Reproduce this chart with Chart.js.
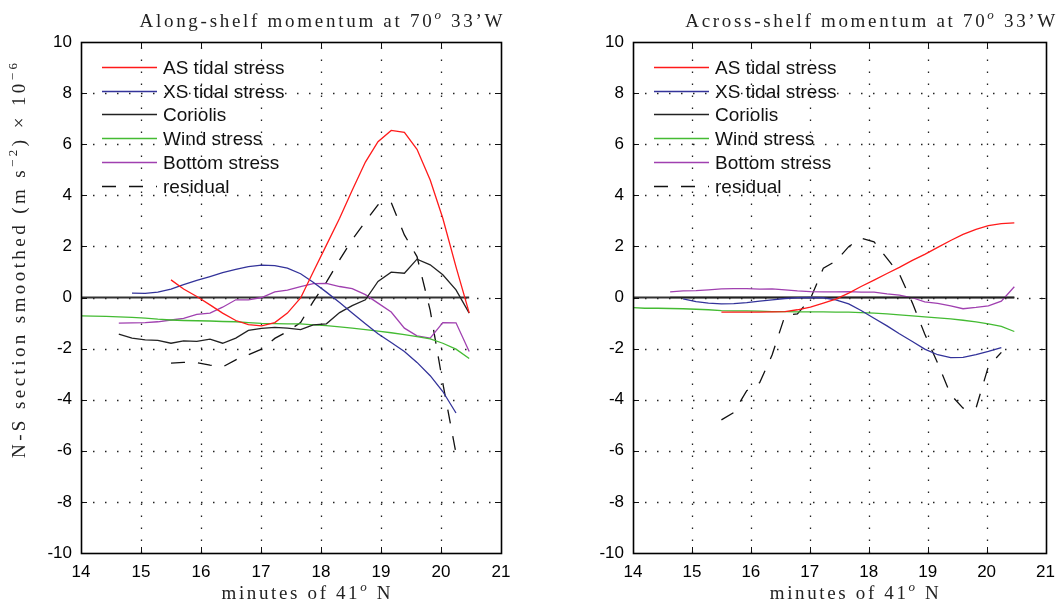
<!DOCTYPE html>
<html>
<head>
<meta charset="utf-8">
<script src="https://cdn.jsdelivr.net/npm/chart.js@4/dist/chart.umd.min.js"></script>
<style>
  html, body { margin: 0; padding: 0; background: #fff; }
  body { width: 1064px; height: 603px; position: relative; overflow: hidden; }
  .panel { position: absolute; top: 0; }
  #leftPanel { left: 0; width: 520px; height: 603px; }
  #rightPanel { left: 560px; width: 504px; height: 603px; }
</style>
</head>
<body>
<div class="panel" id="leftPanel"><canvas id="along" width="520" height="603"></canvas></div>
<div class="panel" id="rightPanel"><canvas id="across" width="504" height="603"></canvas></div>
<script>
// sample positions along the section (minutes of 41 N)
const X_MINUTES = [14.00, 14.20, 14.42, 14.63, 14.85, 15.07, 15.28, 15.50, 15.71, 15.93,
                   16.15, 16.36, 16.58, 16.79, 17.01, 17.23, 17.44, 17.66, 17.87, 18.09,
                   18.31, 18.52, 18.74, 18.95, 19.17, 19.39, 19.60, 19.82, 20.03, 20.25, 20.47];

const SERIES_LABELS = ['AS tidal stress', 'XS tidal stress', 'Coriolis', 'Wind stress', 'Bottom stress', 'residual'];

// along-shelf momentum terms (x 1e-6 m s^-2)
const asAlong = [null, null, null, null, null, null, null,
  0.69, 0.33, 0.04, -0.29, -0.61, -0.90, -1.06, -1.11, -0.98, -0.61, -0.02, 1.0,
  2.05, 3.1, 4.2, 5.3, 6.1, 6.54, 6.46, 5.8, 4.6, 3.1, 1.2, -0.6];
const xsAlong = [null, null, null, null,
  0.17, 0.16, 0.21, 0.33, 0.50, 0.67, 0.82, 0.97, 1.10, 1.21, 1.27, 1.25, 1.15,
  0.93, 0.60, 0.21, -0.20, -0.61, -1.03, -1.42, -1.76, -2.11, -2.54, -3.06, -3.68, -4.52, null];
const corAlong = [null, null, null,
  -1.43, -1.59, -1.66, -1.68, -1.79, -1.70, -1.72, -1.63, -1.79, -1.59, -1.29, -1.21,
  -1.17, -1.20, -1.26, -1.07, -1.03, -0.59, -0.32, -0.09, 0.63, 0.99, 0.95, 1.50,
  1.28, 0.89, 0.30, -0.61];
const windAlong = [-0.72, -0.73, -0.74,
  -0.76, -0.78, -0.81, -0.85, -0.88, -0.90, -0.91, -0.92, -0.94, -0.95, -0.98, -1.01,
  -1.02, -1.03, -1.03, -1.07, -1.10, -1.15, -1.20, -1.26, -1.32, -1.38, -1.45, -1.53,
  -1.62, -1.79, -2.02, -2.39];
const botAlong = [null, null, null,
  -1.00, -0.99, -0.98, -0.95, -0.88, -0.82, -0.66, -0.61, -0.38, -0.09, -0.09, 0.0,
  0.22, 0.29, 0.43, 0.54, 0.55, 0.43, 0.35, 0.11, -0.22, -0.57, -1.20, -1.50,
  -1.59, -0.98, -0.99, -2.11];
const resAlong = [null, null, null, null, null, null, null,
  -2.57, -2.54, -2.55, -2.65, -2.72, -2.44, -2.24, -2.02, -1.6, -1.33, -0.98, -0.16,
  0.6, 1.47, 2.26, 2.97, 3.63, 3.72, 2.45, 1.6, -0.5, -3.35, -6.1, null];

// across-shelf momentum terms
const asAcross = [null, null, null, null, null, null, null,
  -0.57, -0.57, -0.57, -0.57, -0.56, -0.55, -0.48, -0.38, -0.22, -0.06, 0.17, 0.43,
  0.68, 0.94, 1.18, 1.45, 1.69, 1.96, 2.23, 2.47, 2.67, 2.81, 2.89, 2.92];
const xsAcross = [null, null, null, null,
  -0.05, -0.16, -0.22, -0.25, -0.24, -0.20, -0.14, -0.09, -0.04, -0.01, 0.0, -0.01,
  -0.09, -0.25, -0.51, -0.81, -1.11, -1.42, -1.72, -2.02, -2.24, -2.35, -2.34, -2.24,
  -2.11, -1.96, null];
const corAcross = [null, null, null,
  0, 0, 0, 0, 0, 0, 0, 0, 0, 0, 0, 0, 0, 0, 0, 0, 0, 0, 0, 0, 0, 0, 0, 0, 0, 0, 0, 0];
const windAcross = [-0.40, -0.42, -0.42,
  -0.43, -0.44, -0.46, -0.48, -0.51, -0.52, -0.52, -0.53, -0.55, -0.55, -0.56, -0.56,
  -0.56, -0.57, -0.57, -0.59, -0.61, -0.64, -0.68, -0.72, -0.76, -0.80, -0.84, -0.89,
  -0.95, -1.03, -1.13, -1.33];
const botAcross = [null, null, null,
  0.22, 0.26, 0.27, 0.30, 0.34, 0.35, 0.35, 0.33, 0.34, 0.30, 0.26, 0.23, 0.22,
  0.22, 0.23, 0.21, 0.21, 0.14, 0.09, -0.01, -0.17, -0.23, -0.33, -0.44, -0.39,
  -0.33, -0.14, 0.42];
const resAcross = [null, null, null, null, null, null, null,
  -4.79, -4.5, -3.65, -3.33, -2.25, -0.7, -0.64, -0.05, 1.15, 1.42, 1.99, 2.32,
  2.18, 1.53, 0.92, -0.21, -1.43, -2.57, -3.8, -4.33, -4.33, -2.7, -2.15, null];

const zeroLine = X_MINUTES.map(() => 0);

const SERIES_COLORS = ['#ff1a1a', '#33339a', '#222222', '#44bb33', '#a040b0', '#111111'];
const SERIES_DASH = [[], [], [], [], [], [14, 13]];

const SANS = '"Liberation Sans", Arial, sans-serif';
const SERIF = '"Liberation Serif", "DejaVu Serif", serif';

function toPoints(values) {
  return X_MINUTES.map((x, k) => ({ x: x, y: values[k] })).filter(p => p.y !== null);
}

function buildDatasets(seriesList) {
  const sets = seriesList.map((values, i) => ({
    label: SERIES_LABELS[i],
    data: toPoints(values),
    borderColor: SERIES_COLORS[i],
    borderDash: SERIES_DASH[i],
    borderWidth: 1.3,
    pointRadius: 0,
    tension: 0,
    fill: false
  }));
  sets.push({
    label: '',
    data: toPoints(zeroLine),
    borderColor: '#333333',
    borderWidth: 2,
    pointRadius: 0,
    tension: 0,
    fill: false
  });
  return sets;
}

// rich text with letter spacing and superscripts
function segFont(seg, size) {
  const s = seg.sup ? Math.round(size * 0.68) : size;
  return (seg.italic ? 'italic ' : '') + s + 'px ' + SERIF;
}
function measureRich(ctx, segs, size) {
  let w = 0, n = 0;
  segs.forEach(seg => {
    ctx.font = segFont(seg, size);
    for (const ch of seg.t) { w += ctx.measureText(ch).width; n++; }
  });
  return { w, n };
}
function drawRich(ctx, segs, cx, y, size, target) {
  const m = measureRich(ctx, segs, size);
  const gap = (target - m.w) / (m.n - 1);
  let x = cx - target / 2;
  ctx.textAlign = 'left';
  ctx.textBaseline = 'alphabetic';
  segs.forEach(seg => {
    ctx.font = segFont(seg, size);
    const dy = seg.sup ? -size * 0.42 : 0;
    for (const ch of seg.t) {
      ctx.fillText(ch, x, y + dy);
      x += ctx.measureText(ch).width + gap;
    }
  });
}

const framePlugin = {
  id: 'frame',
  beforeDatasetsDraw(chart) {
    const { ctx, chartArea: a, scales: { x, y } } = chart;
    ctx.save();
    ctx.strokeStyle = '#222';
    ctx.lineWidth = 1.3;
    ctx.setLineDash([1.5, 10.5]);
    x.ticks.forEach(t => {
      if (t.value <= x.min || t.value >= x.max) return;
      const px = Math.round(x.getPixelForValue(t.value)) + 0.5;
      ctx.beginPath(); ctx.moveTo(px, a.bottom); ctx.lineTo(px, a.top); ctx.stroke();
    });
    y.ticks.forEach(t => {
      if (t.value <= y.min || t.value >= y.max) return;
      const py = Math.round(y.getPixelForValue(t.value)) + 0.5;
      ctx.beginPath(); ctx.moveTo(a.left, py); ctx.lineTo(a.right, py); ctx.stroke();
    });
    ctx.restore();
  },
  afterDatasetsDraw(chart, args, opts) {
    const { ctx, chartArea: a, scales: { x, y } } = chart;
    ctx.save();
    ctx.setLineDash([]);
    ctx.strokeStyle = '#111';
    ctx.lineWidth = 1;
    x.ticks.forEach(t => {
      const px = Math.round(x.getPixelForValue(t.value)) + 0.5;
      ctx.beginPath();
      ctx.moveTo(px, a.bottom); ctx.lineTo(px, a.bottom - 6);
      ctx.moveTo(px, a.top); ctx.lineTo(px, a.top + 6);
      ctx.stroke();
    });
    y.ticks.forEach(t => {
      const py = Math.round(y.getPixelForValue(t.value)) + 0.5;
      ctx.beginPath();
      ctx.moveTo(a.left, py); ctx.lineTo(a.left + 6, py);
      ctx.moveTo(a.right, py); ctx.lineTo(a.right - 6, py);
      ctx.stroke();
    });
    ctx.lineWidth = 1.6;
    ctx.strokeStyle = '#000';
    ctx.strokeRect(Math.round(a.left) + 0.5, Math.round(a.top) + 0.5,
      Math.round(a.right - a.left), Math.round(a.bottom - a.top));

    // legend
    ctx.font = '19px ' + SANS;
    ctx.textBaseline = 'middle';
    ctx.textAlign = 'left';
    chart.data.datasets.forEach((ds, i) => {
      if (!ds.label) return;
      const ly = Math.round(a.top + 25 + i * 23.7) + 0.5;
      ctx.strokeStyle = ds.borderColor;
      ctx.lineWidth = 1.5;
      ctx.setLineDash(ds.borderDash || []);
      ctx.beginPath();
      ctx.moveTo(a.left + 21, ly);
      ctx.lineTo(a.left + 76, ly);
      ctx.stroke();
      ctx.fillStyle = '#111';
      ctx.fillText(ds.label, a.left + 82, ly + 1);
    });
    ctx.restore();
  },
  afterDraw(chart, args, opts) {
    const { ctx, chartArea: a } = chart;
    const mid = (a.left + a.right) / 2;
    ctx.save();
    ctx.fillStyle = '#222';
    drawRich(ctx, opts.title, mid + opts.titleShift, 26.5, 19, opts.titleWidth);
    drawRich(ctx, opts.xTitle, mid + 15, 599, 19, 169);
    if (opts.yTitle) {
      ctx.translate(25, (a.top + a.bottom) / 2 - 37);
      ctx.rotate(-Math.PI / 2);
      drawRich(ctx, opts.yTitle, 0, 0, 19, 395);
    }
    ctx.restore();
  }
};

const X_TITLE = [{ t: 'minutes of 41' }, { t: 'o', sup: true, italic: true }, { t: ' N' }];
const Y_TITLE = [{ t: 'N-S section smoothed (m s' }, { t: '\u22122', sup: true },
                 { t: ') \u00d7 10' }, { t: '\u22126', sup: true }];

function makeChart(canvasId, seriesList, title, titleWidth, titleShift, yTitle, yWidth, padRight) {
  return new Chart(document.getElementById(canvasId), {
    type: 'line',
    data: { datasets: buildDatasets(seriesList) },
    options: {
      responsive: false,
      animation: false,
      devicePixelRatio: 1,
      layout: { padding: { left: 0, top: 42, right: padRight, bottom: 0 } },
      plugins: {
        legend: { display: false },
        tooltip: { enabled: false },
        frame: {
          title: title,
          titleWidth: titleWidth,
          titleShift: titleShift,
          xTitle: X_TITLE,
          yTitle: yTitle
        }
      },
      scales: {
        x: {
          type: 'linear',
          min: 14,
          max: 21,
          ticks: { stepSize: 1, padding: 9, color: '#000', font: { family: SANS, size: 17 } },
          grid: { display: false, drawTicks: false },
          border: { display: false },
          afterFit: scale => { scale.height = 50; }
        },
        y: {
          min: -10,
          max: 10,
          ticks: { stepSize: 2, padding: 9, color: '#000', font: { family: SANS, size: 17 } },
          grid: { display: false, drawTicks: false },
          border: { display: false },
          afterFit: scale => { scale.width = yWidth; }
        }
      }
    },
    plugins: [framePlugin]
  });
}

makeChart('along', [asAlong, xsAlong, corAlong, windAlong, botAlong, resAlong],
  [{ t: 'Along-shelf momentum at 70' }, { t: 'o', sup: true, italic: true }, { t: ' 33\u2019W' }],
  363, 30, Y_TITLE, 81, 19);

makeChart('across', [asAcross, xsAcross, corAcross, windAcross, botAcross, resAcross],
  [{ t: 'Across-shelf momentum at 70' }, { t: 'o', sup: true, italic: true }, { t: ' 33\u2019W' }],
  370, 31, null, 73, 9);
</script>
</body>
</html>
